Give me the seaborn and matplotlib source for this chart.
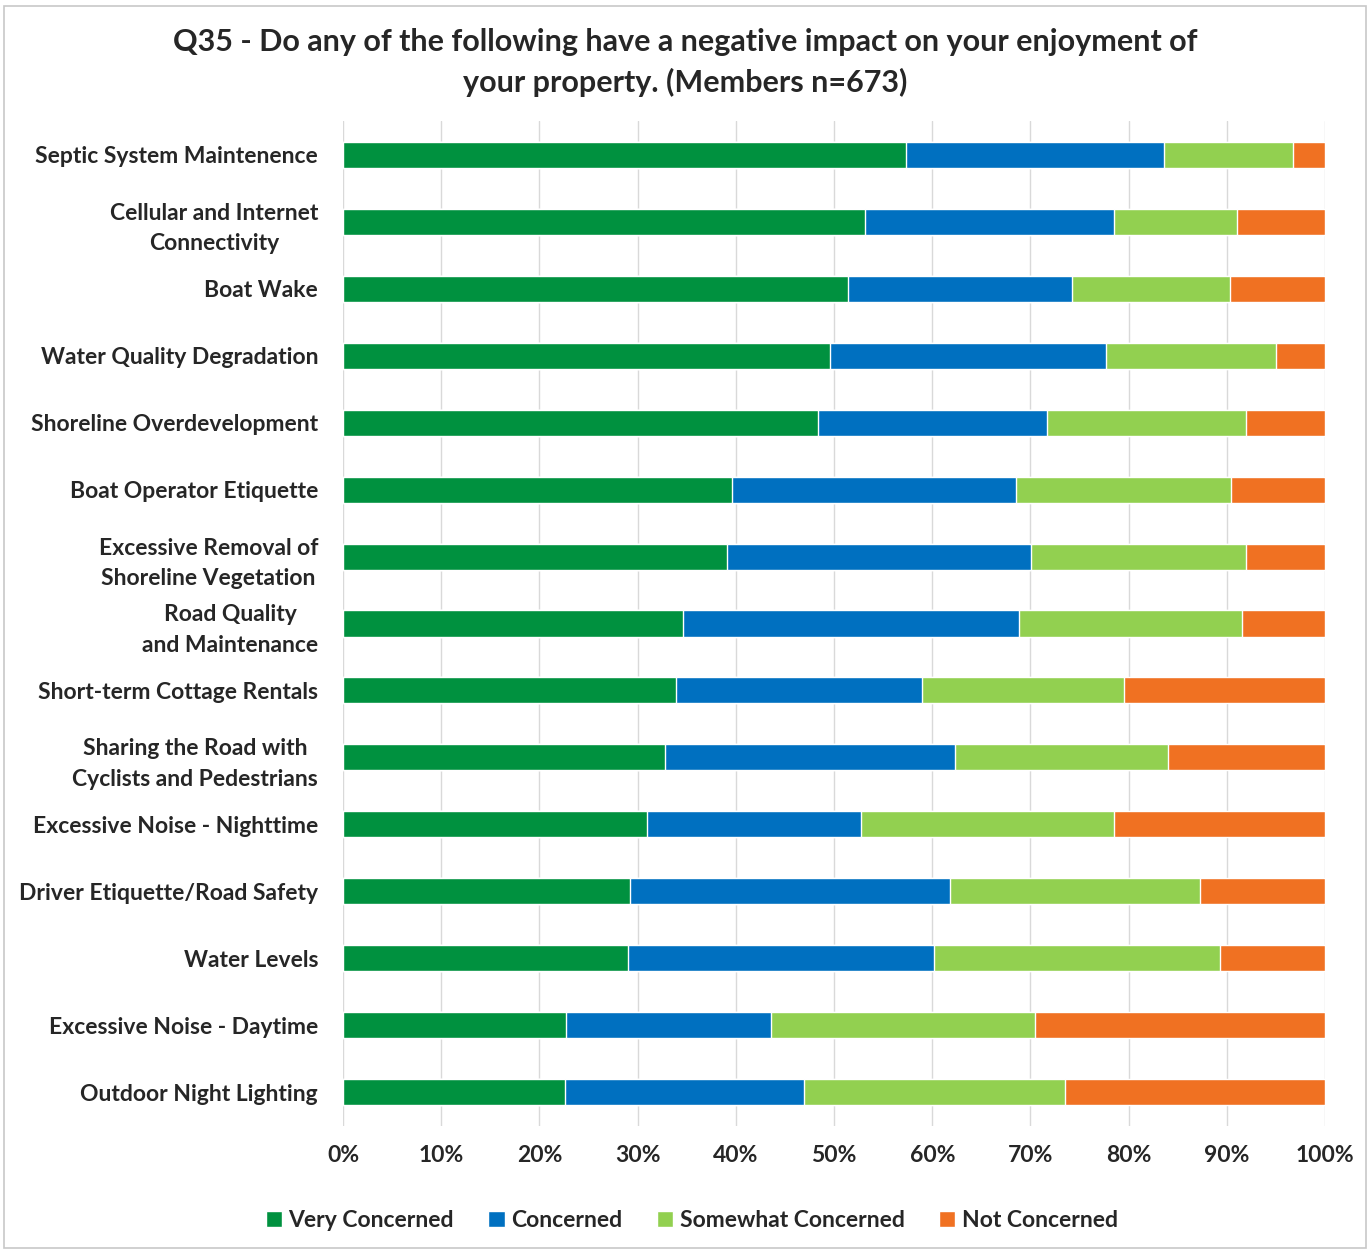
import numpy as np
import pandas as pd
import seaborn as sns
from matplotlib import pyplot as plt
from matplotlib.patches import Patch, Rectangle
from matplotlib.ticker import PercentFormatter

# labels, top to bottom
items = ["Septic System Maintenence", "Cellular and Internet\nConnectivity", "Boat Wake",
         "Water Quality Degradation", "Shoreline Overdevelopment", "Boat Operator Etiquette",
         "Excessive Removal of\nShoreline Vegetation", "Road Quality\nand Maintenance",
         "Short-term Cottage Rentals", "Sharing the Road with\nCyclists and Pedestrians",
         "Excessive Noise - Nighttime", "Driver Etiquette/Road Safety", "Water Levels",
         "Excessive Noise - Daytime", "Outdoor Night Lighting"]

# percentages
very_concerned = [57.3, 53.2, 51.4, 49.6, 48.4, 39.6, 39.1, 34.6, 33.9, 32.8, 31.0, 29.2, 29.0, 22.7, 22.6]
concerned = [26.3, 25.3, 22.8, 28.1, 23.3, 28.9, 31.0, 34.2, 25.1, 29.5, 21.7, 32.6, 31.2, 20.9, 24.3]
somewhat = [13.1, 12.5, 16.1, 17.3, 20.2, 21.9, 21.8, 22.7, 20.5, 21.7, 25.8, 25.5, 29.1, 26.9, 26.6]
not_concerned = [3.3, 9.0, 9.7, 5.0, 8.1, 9.6, 8.1, 8.5, 20.5, 16.0, 21.5, 12.7, 10.7, 29.5, 26.5]

series = ["Very Concerned", "Concerned", "Somewhat Concerned", "Not Concerned"]
colors = ["#00913f", "#0070c0", "#92d050", "#f07122"]

df = pd.DataFrame({"item": items, series[0]: very_concerned, series[1]: concerned,
                   series[2]: somewhat, series[3]: not_concerned})
cum = df[series].cumsum(axis=1)

sns.set_style("white")
plt.rcParams['font.family'] = ['Lato', 'DejaVu Sans']
plt.rcParams['font.weight'] = 'bold'

fig = plt.figure(figsize=(13.7, 12.51), dpi=100)
ax = fig.add_axes([0.2504, 0.1003, 0.7168, 0.8026])

# stacked bars: draw cumulative totals from the right-most segment back
for s, c in zip(series[::-1], colors[::-1]):
    sns.barplot(x=cum[s], y=df["item"], color=c, orient="h", width=0.39,
                ax=ax, saturation=1, zorder=2)

ax.set_xlim(0, 100)
ax.xaxis.set_major_locator(plt.MultipleLocator(10))
ax.xaxis.set_major_formatter(PercentFormatter(decimals=0))
ax.grid(axis="x", color="#d9d9d9", linewidth=1, zorder=0)
ax.set_axisbelow(True)
for sp in ax.spines.values():
    sp.set_visible(False)
ax.set_xlabel("")
ax.set_ylabel("")
ax.tick_params(axis="y", length=0, pad=18, labelsize=16.5)
ax.tick_params(axis="x", length=0, pad=14, labelsize=16.5)
for t in ax.get_yticklabels():
    t.set_multialignment("center")
    t.set_linespacing(1.55)
    t.set_fontweight("bold")
for t in ax.get_xticklabels():
    t.set_fontweight("bold")

fig.suptitle("Q35 - Do any of the following have a negative impact on your enjoyment of\n"
             "your property. (Members n=673)", fontsize=22, fontweight="bold",
             y=0.978, linespacing=1.5)

handles = [Patch(facecolor=c, label=s) for s, c in zip(series, colors)]
fig.legend(handles=handles, loc="center", bbox_to_anchor=(0.505, 0.024), ncol=4,
           frameon=False, handlelength=0.7, handleheight=0.7, handletextpad=0.3,
           columnspacing=1.5, prop={"size": 16.5, "weight": "bold"})

# thin grey frame around the chart
fig.patches.append(Rectangle((0.003, 0.002), 0.994, 0.993, transform=fig.transFigure,
                             fill=False, edgecolor="#c8c8c8", linewidth=1.2))

fig.savefig("out.png", dpi=100)
